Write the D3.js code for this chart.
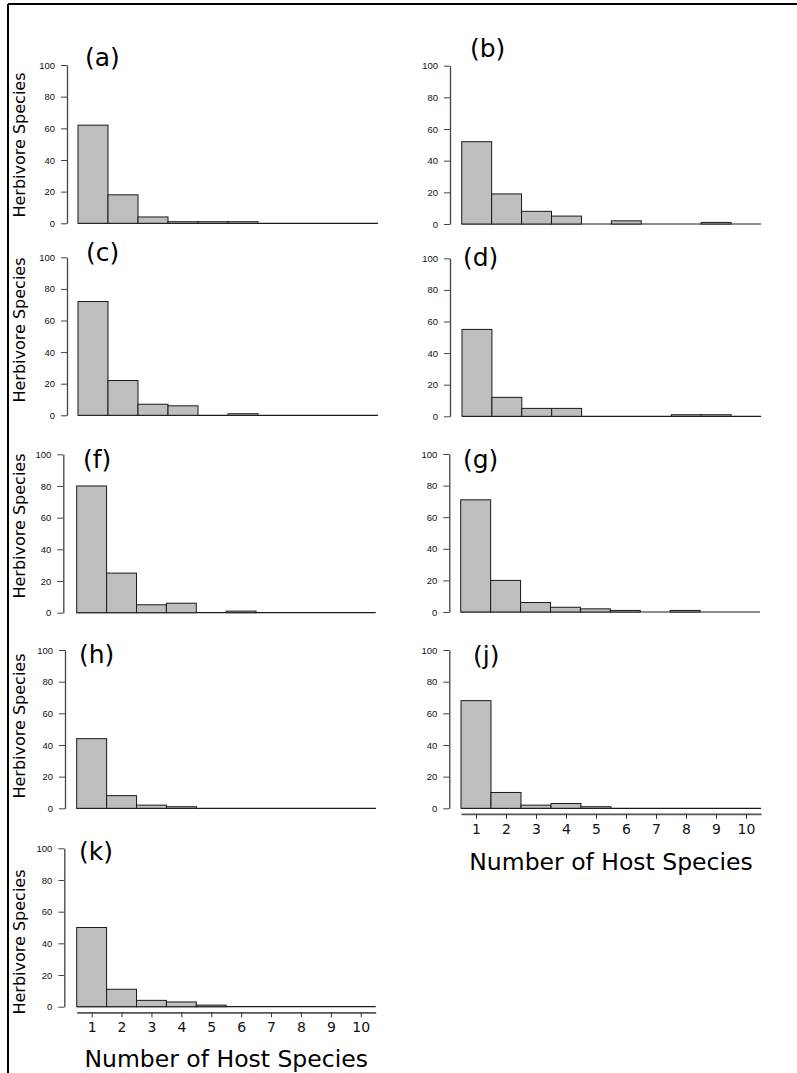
<!DOCTYPE html>
<html>
<head>
<meta charset="utf-8">
<script src="https://cdn.jsdelivr.net/npm/d3@7"></script>
<style>
  body { margin: 0; background: #fff; }
  svg { display: block; }
</style>
</head>
<body>
<div id="container"></div>
<script>
// number of herbivore species recorded on 1..10 host species, per site
const hostBins = [1, 2, 3, 4, 5, 6, 7, 8, 9, 10];
const yTicks = [0, 20, 40, 60, 80, 100];
const panelNames = ["(a)", "(b)", "(c)", "(d)", "(f)", "(g)", "(h)", "(j)", "(k)"];
const countsA = [62, 18, 4, 1, 1, 1, 0, 0, 0, 0];
const countsB = [52, 19, 8, 5, 0, 2, 0, 0, 1, 0];
const countsC = [72, 22, 7, 6, 0, 1, 0, 0, 0, 0];
const countsD = [55, 12, 5, 5, 0, 0, 0, 1, 1, 0];
const countsF = [80, 25, 5, 6, 0, 1, 0, 0, 0, 0];
const countsG = [71, 20, 6, 3, 2, 1, 0, 1, 0, 0];
const countsH = [44, 8, 2, 1, 0, 0, 0, 0, 0, 0];
const countsJ = [68, 10, 2, 3, 1, 0, 0, 0, 0, 0];
const countsK = [50, 11, 4, 3, 1, 0, 0, 0, 0, 0];
const allCounts = [countsA, countsB, countsC, countsD, countsF, countsG, countsH, countsJ, countsK];

// layout of each panel on the page
const layout = [
  {ax: 67,    x0: 78,    x1: 378, y0: 223.3,  y1: 65,    lx: 85,  ly: 57,  ylab: 145, xaxis: false},
  {ax: 450,   x0: 461.7, x1: 761, y0: 224,    y1: 65.7,  lx: 470, ly: 48,  ylab: null, xaxis: false},
  {ax: 67,    x0: 78,    x1: 378, y0: 415.3,  y1: 257.3, lx: 86,  ly: 252, ylab: 330, xaxis: false},
  {ax: 450,   x0: 462,   x1: 761, y0: 416.3,  y1: 258.3, lx: 463, ly: 257, ylab: null, xaxis: false},
  {ax: 63.3,  x0: 76.7,  x1: 375.7, y0: 612.7, y1: 454.3, lx: 83, ly: 459, ylab: 526, xaxis: false},
  {ax: 449.3, x0: 460.7, x1: 760, y0: 612,    y1: 454,   lx: 463, ly: 459, ylab: null, xaxis: false},
  {ax: 65,    x0: 76.7,  x1: 376, y0: 808.3,  y1: 650,   lx: 79,  ly: 654, ylab: 726, xaxis: false},
  {ax: 449.3, x0: 461,   x1: 761, y0: 808.3,  y1: 650,   lx: 473, ly: 655, ylab: null, xaxis: true, title: 862},
  {ax: 64.3,  x0: 76.7,  x1: 375.7, y0: 1006.7, y1: 848.3, lx: 79, ly: 851, ylab: 942, xaxis: true, title: 1059}
];

const W = 797, H = 1073;
const svg = d3.select("#container")
  .append("svg")
  .attr("width", W)
  .attr("height", H)
  .style("background", "#fff");

// frame (top and left edges of the figure box)
svg.append("line").attr("x1", 8).attr("x2", W).attr("y1", 4).attr("y2", 4)
  .attr("stroke", "#000").attr("stroke-width", 2);
svg.append("line").attr("x1", 8).attr("x2", 8).attr("y1", 4).attr("y2", H)
  .attr("stroke", "#000").attr("stroke-width", 2);

allCounts.forEach((counts, i) => {
  const L = layout[i];
  const g = svg.append("g");

  const x = d3.scaleLinear().domain([0.5, 10.5]).range([L.x0, L.x1]);
  const y = d3.scaleLinear().domain([0, 100]).range([L.y0, L.y1]);

  // baseline: empty bins show as a flat outline
  g.append("line")
    .attr("x1", x(0.5)).attr("x2", x(10.5))
    .attr("y1", y(0)).attr("y2", y(0))
    .attr("stroke", "#1a1a1a")
    .attr("stroke-width", 1.2);

  g.selectAll("rect.bar")
    .data(hostBins.map((b, k) => ({bin: b, n: counts[k]})).filter(d => d.n > 0))
    .join("rect")
    .attr("class", "bar")
    .attr("x", d => x(d.bin - 0.5))
    .attr("width", d => x(d.bin + 0.5) - x(d.bin - 0.5))
    .attr("y", d => y(d.n))
    .attr("height", d => y(0) - y(d.n))
    .attr("fill", "#bebebe")
    .attr("stroke", "#1a1a1a")
    .attr("stroke-width", 1);

  // y axis
  const yAxis = g.append("g")
    .attr("transform", `translate(${L.ax},0)`)
    .call(d3.axisLeft(y).tickValues(yTicks).tickSize(6).tickSizeOuter(0).tickPadding(6));
  yAxis.select(".domain").attr("stroke", "#444").attr("stroke-width", 1.3);
  yAxis.selectAll(".tick line").attr("stroke", "#444");
  yAxis.selectAll(".tick text")
    .attr("font-family", "'Liberation Sans', Arial, sans-serif")
    .attr("font-size", 9.5)
    .attr("fill", "#111");

  // panel letter
  g.append("text")
    .attr("x", L.lx)
    .attr("y", L.ly)
    .attr("dy", "0.35em")
    .attr("font-family", "'DejaVu Sans', sans-serif")
    .attr("font-size", 25)
    .text(panelNames[i]);

  if (L.ylab !== null) {
    g.append("text")
      .attr("transform", `translate(19,${L.ylab}) rotate(-90)`)
      .attr("text-anchor", "middle")
      .attr("dy", "0.35em")
      .attr("font-family", "'DejaVu Sans', sans-serif")
      .attr("font-size", 16)
      .text("Herbivore Species");
  }

  if (L.xaxis) {
    const xAxis = g.append("g")
      .attr("transform", `translate(0,${L.y0 + 5.6})`)
      .call(d3.axisBottom(x).tickValues(hostBins).tickSize(5).tickSizeOuter(0).tickPadding(5));
    xAxis.select(".domain").attr("stroke", "#555").attr("stroke-width", 1.8);
    xAxis.selectAll(".tick line").attr("stroke", "#333");
    xAxis.selectAll(".tick text")
      .attr("font-family", "'DejaVu Sans', sans-serif")
      .attr("font-size", 14)
      .attr("fill", "#111");

    g.append("text")
      .attr("x", (L.x0 + L.x1) / 2)
      .attr("y", L.title)
      .attr("dy", "0.35em")
      .attr("text-anchor", "middle")
      .attr("font-family", "'DejaVu Sans', sans-serif")
      .attr("font-size", 23.5)
      .text("Number of Host Species");
  }
});
</script>
</body>
</html>
